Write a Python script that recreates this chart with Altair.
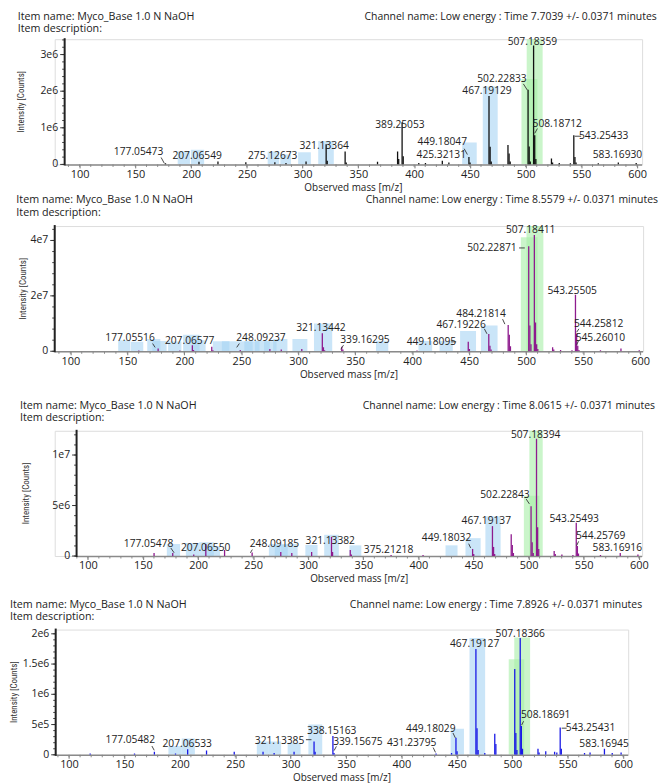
import altair as alt
import pandas as pd

ITEM_NAME = "Item name: Myco_Base 1.0 N NaOH"
ITEM_DESC = "Item description:"
X_TITLE = "Observed mass [m/z]"
Y_TITLE = "Intensity [Counts]"
X_TICKS = [100, 150, 200, 250, 300, 350, 400, 450, 500, 550, 600]

# ---------------- Panel 1 ----------------
p1_channel = "Channel name: Low energy : Time 7.7039 +/- 0.0371 minutes"
p1_peak_mz = [177.05, 207.07, 224.1, 249.1, 275.13, 285.1, 303.1, 321.13, 322.1, 338.15, 339.16, 367.2,
              385.2, 386.2, 389.25, 390.25, 404.2, 410.2, 425.32, 431.2, 449.18, 450.2, 467.19, 468.2,
              469.2, 484.2, 485.2, 486.2, 502.23, 503.23, 504.2, 507.18, 508.19, 509.2, 523.2, 524.2,
              530.2, 540.2, 543.25, 544.26, 545.26, 565.2, 583.17, 599.2]
p1_peak_int = [0.03e6, 0.07e6, 0.08e6, 0.06e6, 0.06e6, 0.04e6, 0.08e6, 0.55e6, 0.1e6, 0.35e6, 0.05e6, 0.07e6,
               0.35e6, 0.15e6, 1.15e6, 0.22e6, 0.04e6, 0.04e6, 0.1e6, 0.05e6, 0.2e6, 0.05e6, 1.87e6, 0.48e6,
               0.08e6, 0.53e6, 0.3e6, 0.08e6, 2.04e6, 0.49e6, 0.08e6, 3.245e6, 0.8e6, 0.15e6, 0.16e6, 0.05e6,
               0.04e6, 0.03e6, 0.8e6, 0.2e6, 0.05e6, 0.03e6, 0.05e6, 0.04e6]
p1_box_lo = [188, 199.8, 268.7, 280, 296, 314, 443.1, 461.6, 496.3, 501]
p1_box_hi = [199, 211.7, 279, 289.6, 307.4, 328, 456.2, 475, 510.6, 515.3]
p1_box_top = [0.35e6, 0.40e6, 0.35e6, 0.27e6, 0.33e6, 0.64e6, 0.6e6, 2.13e6, 2.33e6, 3.47e6]
p1_box_kind = ["b", "b", "b", "b", "b", "b", "b", "b", "g", "g"]
p1_lab_text = ["177.05473", "207.06549", "275.12673", "321.13364", "389.25053", "449.18047", "425.32131",
               "467.19129", "502.22833", "507.18359", "508.18712", "543.25433", "583.16930"]
p1_lab_mz = [152.9, 205.4, 273.2, 319.3, 387.3, 425.3, 424.4, 465.4, 478.8, 506.1, 528.4, 570.0, 582.4]
p1_lab_int = [0.35e6, 0.24e6, 0.24e6, 0.49e6, 1.07e6, 0.6e6, 0.27e6, 2.0e6, 2.33e6, 3.33e6, 1.11e6, 0.77e6, 0.25e6]
p1_lead_x = [173.1, 444.9, 498.0, 508.2, 544.1]
p1_lead_y = [0.19e6, 0.43e6, 2.2e6, 0.85e6, 0.77e6]
p1_lead_x2 = [176.0, 447.8, 501.6, 510.6, 549.8]
p1_lead_y2 = [0.03e6, 0.27e6, 2.03e6, 0.98e6, 0.77e6]
p1_yticks = [0, 1e6, 2e6, 3e6]
p1_ylabels = ["0", "1e6", "2e6", "3e6"]

# ---------------- Panel 2 ----------------
p2_channel = "Channel name: Low energy : Time 8.5579 +/- 0.0371 minutes"
p2_peak_mz = [160.1, 177.05, 196.1, 207.07, 208.1, 224.1, 225.1, 249.1, 275.1, 285.1, 303.1, 321.13, 322.1,
              323.1, 338.15, 339.16, 404.2, 449.18, 450.2, 467.19, 468.2, 469.2, 484.22, 485.2, 486.2,
              502.23, 503.23, 504.2, 507.18, 508.19, 509.2, 510.2, 523.2, 524.2, 530.2, 540.2, 543.26,
              544.26, 545.26, 546.3, 565.2, 583.17, 599.2]
p2_peak_int = [0.3e6, 1.0e6, 0.3e6, 2.2e6, 0.5e6, 1.6e6, 0.4e6, 0.5e6, 0.8e6, 0.6e6, 0.8e6, 6.5e6, 1.5e6,
               0.4e6, 1.6e6, 0.6e6, 0.3e6, 3.4e6, 0.8e6, 6.2e6, 2.0e6, 0.6e6, 9.5e6, 6.0e6, 1.8e6,
               37.9e6, 9.3e6, 2.5e6, 42.0e6, 10.4e6, 2.5e6, 0.8e6, 1.5e6, 0.6e6, 0.5e6, 0.4e6, 20.4e6,
               6.3e6, 2.0e6, 0.5e6, 0.4e6, 1.0e6, 0.4e6]
p2_box_lo = [142, 153, 167.5, 172, 185.8, 199, 207, 225, 233, 247, 252.7, 262, 270, 278, 294.9, 313.8,
             368.2, 405.5, 424, 442, 460.3, 495.3, 500.3]
p2_box_hi = [152.5, 164, 179, 184.5, 197.5, 213.4, 218.7, 239.6, 247, 260, 266, 275, 281, 290.5, 308, 329.8,
             379, 417.5, 435.6, 456, 474.9, 510, 515.1]
p2_box_top = [4.0e6, 3.4e6, 4.4e6, 3.7e6, 3.5e6, 6.0e6, 4.0e6, 3.6e6, 3.6e6, 3.6e6, 3.6e6, 3.8e6, 3.6e6,
              4.4e6, 4.4e6, 10e6, 3.8e6, 3.7e6, 3.7e6, 7.3e6, 9.3e6, 41.2e6, 45.5e6]
p2_box_kind = ["b"] * 21 + ["g", "g"]
p2_lab_text = ["177.05516", "207.06577", "248.09237", "321.13442", "339.16295", "449.18095", "467.19226",
               "484.21814", "502.22871", "507.18411", "543.25505", "544.25812", "545.26010"]
p2_lab_mz = [152.4, 204.7, 267.3, 319.9, 358.5, 416.8, 442.9, 460.4, 470.0, 504.0, 540.4, 563.6, 565.1]
p2_lab_int = [4.8e6, 3.75e6, 4.9e6, 8.3e6, 4.2e6, 3.4e6, 9.5e6, 13.6e6, 37.3e6, 43.8e6, 21.9e6, 9.9e6, 4.9e6]
p2_lead_x = [172.2, 246.0, 337.3, 434.2, 463.3, 479.3, 493.8, 544.3, 544.3]
p2_lead_y = [2.8e6, 1.4e6, 0.7e6, 3.4e6, 8.1e6, 11.6e6, 37.3e6, 6.9e6, 2.3e6]
p2_lead_x2 = [174.4, 248.3, 339.7, 438.6, 465.6, 481.3, 498.8, 546.3, 545.8]
p2_lead_y2 = [1.4e6, 2.8e6, 2.2e6, 3.4e6, 6.3e6, 9.8e6, 37.3e6, 8.1e6, 3.7e6]
p2_yticks = [0, 2e7, 4e7]
p2_ylabels = ["0", "2e7", "4e7"]

# ---------------- Panel 3 ----------------
p3_channel = "Channel name: Low energy : Time 8.0615 +/- 0.0371 minutes"
p3_peak_mz = [160.1, 177.05, 196.1, 207.07, 224.1, 249.1, 275.1, 285.1, 303.1, 321.13, 322.1, 338.15, 339.16,
              375.2, 404.2, 449.18, 450.2, 467.19, 468.2, 469.2, 484.22, 485.2, 486.2, 502.23, 503.23, 504.2,
              507.18, 508.19, 509.2, 523.2, 524.2, 530.2, 540.2, 543.25, 544.26, 545.26, 565.2, 583.17, 599.2]
p3_peak_int = [0.3e6, 0.3e6, 0.15e6, 1.2e6, 0.6e6, 0.35e6, 0.4e6, 0.3e6, 0.4e6, 1.9e6, 0.4e6, 0.6e6, 0.15e6,
               0.1e6, 0.1e6, 0.7e6, 0.2e6, 2.96e6, 0.9e6, 0.2e6, 2.16e6, 1.1e6, 0.3e6, 4.93e6, 1.36e6, 0.3e6,
               11.6e6, 2.84e6, 0.7e6, 0.5e6, 0.2e6, 0.15e6, 0.1e6, 3.29e6, 1.0e6, 0.25e6, 0.1e6, 0.3e6, 0.15e6]
p3_box_lo = [171.7, 189, 201, 206, 264.3, 269.7, 275.4, 297.4, 314.5, 337.4, 424.6, 442.7, 460.8, 495.7, 500.7]
p3_box_hi = [183.7, 201, 214.4, 220, 274.8, 281.4, 290.4, 308.5, 327.8, 348.2, 435.5, 456.5, 474.6, 509.8, 512.8]
p3_box_top = [1.19e6, 1.29e6, 1.36e6, 1.0e6, 1.2e6, 1.1e6, 1.2e6, 1.1e6, 2.1e6, 1.06e6, 1.06e6, 1.77e6,
              3.93e6, 5.96e6, 12.5e6]
p3_box_kind = ["b"] * 13 + ["g", "g"]
p3_lab_text = ["177.05478", "207.06550", "248.09185", "321.13382", "375.21218", "449.18032", "467.19137",
               "502.22843", "507.18394", "543.25493", "544.25769", "583.16916"]
p3_lab_mz = [155.1, 206.9, 269.4, 320.0, 372.9, 425.5, 461.6, 478.5, 506.4, 541.3, 565.4, 580.5]
p3_lab_int = [1.19e6, 0.8e6, 1.19e6, 1.5e6, 0.64e6, 1.77e6, 3.48e6, 6.0e6, 12.0e6, 3.7e6, 1.94e6, 0.8e6]
p3_lead_x = [175.3, 247.5, 445.6, 497.8, 543.6]
p3_lead_y = [0.8e6, 0.32e6, 1.22e6, 5.64e6, 1.03e6]
p3_lead_x2 = [178.3, 249.3, 447.4, 500.7, 545.4]
p3_lead_y2 = [0.32e6, 0.64e6, 0.8e6, 5.16e6, 1.45e6]
p3_yticks = [0, 5e6, 1e7]
p3_ylabels = ["0", "5e6", "1e7"]

# ---------------- Panel 4 ----------------
p4_channel = "Channel name: Low energy : Time 7.8926 +/- 0.0371 minutes"
p4_peak_mz = [119.1, 159.1, 177.05, 196.1, 207.07, 224.1, 249.1, 275.1, 285.1, 303.1, 321.13, 322.1, 338.15,
              339.16, 431.24, 445.2, 449.18, 450.2, 467.19, 468.2, 469.2, 475.2, 484.2, 485.2, 502.23,
              503.23, 504.2, 507.18, 508.19, 509.2, 523.2, 524.2, 530.2, 538.2, 540.2, 543.25, 544.26,
              565.2, 570.2, 583.17, 590.2, 598.2]
p4_peak_int = [0.02e6, 0.02e6, 0.05e6, 0.02e6, 0.09e6, 0.07e6, 0.05e6, 0.05e6, 0.03e6, 0.05e6, 0.22e6, 0.05e6,
               0.31e6, 0.03e6, 0.02e6, 0.03e6, 0.28e6, 0.06e6, 1.75e6, 0.44e6, 0.08e6, 0.03e6, 0.35e6, 0.18e6,
               1.42e6, 0.36e6, 0.08e6, 1.93e6, 0.475e6, 0.1e6, 0.1e6, 0.04e6, 0.06e6, 0.05e6, 0.04e6,
               0.45e6, 0.1e6, 0.03e6, 0.04e6, 0.1e6, 0.03e6, 0.04e6]
p4_box_lo = [189.7, 201.7, 269.5, 280.3, 297.3, 316, 444.4, 461.4, 496.8, 501.8]
p4_box_hi = [201.7, 213.6, 280.3, 291.4, 309, 328.5, 456.4, 475.5, 510.8, 516.1]
p4_box_top = [0.145e6, 0.27e6, 0.22e6, 0.22e6, 0.2e6, 0.5e6, 0.43e6, 1.93e6, 1.58e6, 1.94e6]
p4_box_kind = ["b"] * 8 + ["g", "g"]
p4_lab_text = ["177.05482", "207.06533", "321.13385", "338.15163", "339.15675", "431.23795", "449.18029",
               "467.19127", "507.18366", "508.18691", "543.25431", "583.16945"]
p4_lab_mz = [155.3, 206.7, 290.0, 337.1, 360.7, 409.2, 426.5, 466.0, 507.2, 530.2, 570.6, 582.8]
p4_lab_int = [0.24e6, 0.17e6, 0.22e6, 0.4e6, 0.21e6, 0.19e6, 0.43e6, 1.83e6, 2.0e6, 0.65e6, 0.44e6, 0.17e6]
p4_lead_x = [174.8, 313.8, 339.2, 428.6, 446.5, 508.4, 544.6]
p4_lead_y = [0.145e6, 0.25e6, 0.07e6, 0.12e6, 0.36e6, 0.49e6, 0.44e6]
p4_lead_x2 = [176.9, 318.8, 341.3, 430.7, 448.6, 510.2, 549.1]
p4_lead_y2 = [0.074e6, 0.25e6, 0.14e6, 0.04e6, 0.28e6, 0.555e6, 0.44e6]
p4_yticks = [0, 5e5, 1e6, 1.5e6, 2e6]
p4_ylabels = ["0", "5e5", "1e6", "1.5e6", "2e6"]

# ---------------- styling / layout ----------------
FONT = "Open Sans"
NARROW = "Liberation Sans Narrow, Roboto Condensed, Liberation Sans"
BOX_COLORS = ["#a6d3f3", "#a6eea6"]
ORIGIN_LEFT = 46   # distance from each panel's left edge to its plot origin


def panel(channel, pk_mz, pk_int, stick_color, bx_lo, bx_hi, bx_top, bx_kind,
          lb_text, lb_mz, lb_int, ld_x, ld_y, ld_x2, ld_y2, yticks, ylabels, minor_step,
          axis_lo, x_hi, px_per_unit, a, ydom, height, top_off, name_y, name_x,
          chan_x, ytitle_x, xtitle_x):
    # a = pixel position of the y axis inside the panel
    x_lo = axis_lo - a / px_per_unit
    width = round((x_hi - x_lo) * px_per_unit)
    xs = alt.Scale(domain=[x_lo, x_hi], nice=False, zero=False)
    ys = alt.Scale(domain=ydom, nice=False, zero=False)
    xax = alt.Axis(values=X_TICKS, title=None, tickSize=3.5, tickColor="#777", domain=False,
                   labelFont=FONT, labelFontSize=11, labelColor="#222", labelPadding=0.5,
                   grid=False, labelFlush=False)

    def X(f):
        return alt.X(f, type="quantitative", scale=xs, axis=xax)

    def Y(f):
        return alt.Y(f, type="quantitative", scale=ys, axis=None)

    one = pd.DataFrame({"k": [0]})

    boxes = pd.DataFrame({"lo": bx_lo, "hi": bx_hi, "top": bx_top, "kind": bx_kind,
                          "base": [0] * len(bx_lo)})
    box_layer = alt.Chart(boxes).mark_rect(clip=True, opacity=0.6).encode(
        x=X("lo"), x2="hi", y=Y("top"), y2="base",
        color=alt.Color("kind:N", scale=alt.Scale(domain=["b", "g"], range=BOX_COLORS), legend=None))

    x_line = alt.Chart(pd.DataFrame({"s": [axis_lo], "e": [x_hi]})).mark_rule(
        color="#8a8a8a", strokeWidth=1.5).encode(x=X("s"), x2="e", y=alt.value(height + 0.5))

    minor_x = pd.DataFrame({"m": [v for v in range(90, 610, 10) if axis_lo <= v <= x_hi]})
    minor_x_layer = alt.Chart(minor_x).mark_rule(color="#888", strokeWidth=1).encode(
        x=X("m"), y=alt.value(height), y2=alt.value(height + 2.5))

    y_line = alt.Chart(one).mark_rule(color="#222", strokeWidth=2).encode(
        x=alt.value(a), y=alt.value(-1), y2=alt.value(height + 1))

    ny = int(round(ydom[1] / minor_step))
    minor_y = pd.DataFrame({"m": [i * minor_step for i in range(ny + 1) if i * minor_step <= ydom[1]]})
    minor_y_layer = alt.Chart(minor_y).mark_rule(color="#444", strokeWidth=1).encode(
        y=Y("m"), x=alt.value(a), x2=alt.value(a - 2.5))

    yt = pd.DataFrame({"v": yticks, "lab": ylabels})
    ytick_layer = alt.Chart(yt).mark_rule(color="#333", strokeWidth=1).encode(
        y=Y("v"), x=alt.value(a), x2=alt.value(a - 4.5))
    ylab_layer = alt.Chart(yt).mark_text(font=FONT, fontSize=10.5, color="#222", align="right",
                                         baseline="middle").encode(
        y=Y("v"), x=alt.value(a - 6.5), text="lab:N")

    peaks = pd.DataFrame({"mz": pk_mz, "inten": pk_int, "base": [0] * len(pk_mz)})
    peak_layer = alt.Chart(peaks).mark_rule(color=stick_color, strokeWidth=1.3, clip=True).encode(
        x=X("mz"), y=Y("inten"), y2="base")

    leads = pd.DataFrame({"x1": ld_x, "y1": ld_y, "x2": ld_x2, "y2": ld_y2})
    lead_layer = alt.Chart(leads).mark_rule(color="#333", strokeWidth=0.9).encode(
        x=X("x1"), y=Y("y1"), x2="x2", y2="y2")

    labels = pd.DataFrame({"t": lb_text, "mz": lb_mz, "inten": lb_int})
    label_layer = alt.Chart(labels).mark_text(font=FONT, fontSize=10.3, color="#222",
                                              align="center", baseline="middle").encode(
        x=X("mz"), y=Y("inten"), text="t:N")

    ytitle = alt.Chart(one).mark_text(font=NARROW, fontSize=9, color="#333", angle=270,
                                      align="center", baseline="middle").encode(
        x=alt.value(ytitle_x), y=alt.value(height / 2), text=alt.value(Y_TITLE))
    xtitle = alt.Chart(one).mark_text(font=FONT, fontSize=10, color="#222", align="center",
                                      baseline="middle").encode(
        x=alt.value(xtitle_x), y=alt.value(height + 23.5), text=alt.value(X_TITLE))

    name_layer = alt.Chart(one).mark_text(font=FONT, fontSize=10.8, color="#222", align="left",
                                          baseline="middle").encode(
        x=alt.value(name_x), y=alt.value(name_y), text=alt.value(ITEM_NAME))
    desc_layer = alt.Chart(one).mark_text(font=FONT, fontSize=10.8, color="#222", align="left",
                                          baseline="middle").encode(
        x=alt.value(name_x), y=alt.value(name_y + 12.5), text=alt.value(ITEM_DESC))
    chan_layer = alt.Chart(one).mark_text(font=FONT, fontSize=10.5, color="#222", align="right",
                                          baseline="middle").encode(
        x=alt.value(chan_x), y=alt.value(name_y), text=alt.value(channel))
    spacer = alt.Chart(one).mark_text(font=FONT, fontSize=6, opacity=0, align="left",
                                      baseline="top").encode(
        x=alt.value(-ORIGIN_LEFT), y=alt.value(-top_off), text=alt.value("."))

    return alt.layer(box_layer, x_line, minor_x_layer, minor_y_layer, ytick_layer, y_line, peak_layer,
                     lead_layer, label_layer, ylab_layer, ytitle, xtitle, name_layer, desc_layer,
                     chan_layer, spacer).properties(width=width, height=height)


H = 126
c1 = panel(p1_channel, p1_peak_mz, p1_peak_int, "#111111", p1_box_lo, p1_box_hi, p1_box_top, p1_box_kind,
           p1_lab_text, p1_lab_mz, p1_lab_int, p1_lead_x, p1_lead_y, p1_lead_x2, p1_lead_y2,
           p1_yticks, p1_ylabels, 2e5,
           86.6, 604.5, 1.122, 10, [0, 3.42e6], H, 28, -22.5, -37.3, 605.7, -34, 300.5)
c2 = panel(p2_channel, p2_peak_mz, p2_peak_int, "#8e1b8e", p2_box_lo, p2_box_hi, p2_box_top, p2_box_kind,
           p2_lab_text, p2_lab_mz, p2_lab_int, p2_lead_x, p2_lead_y, p2_lead_x2, p2_lead_y2,
           p2_yticks, p2_ylabels, 4e6,
           86.3, 602.6, 1.146, 0, [0, 4.52e7], H, 31, -26, -38.6, 607, -32.3, 296)
c3 = panel(p3_channel, p3_peak_mz, p3_peak_int, "#8e1b8e", p3_box_lo, p3_box_hi, p3_box_top, p3_box_kind,
           p3_lab_text, p3_lab_mz, p3_lab_int, p3_lead_x, p3_lead_y, p3_lead_x2, p3_lead_y2,
           p3_yticks, p3_ylabels, 1e6,
           89.8, 603.0, 1.108, 22, [0, 1.24e7], H, 50, -25, -35, 604, -29, 306.3)
c4 = panel(p4_channel, p4_peak_mz, p4_peak_int, "#1a1ae6", p4_box_lo, p4_box_hi, p4_box_top, p4_box_kind,
           p4_lab_text, p4_lab_mz, p4_lab_int, p4_lead_x, p4_lead_y, p4_lead_x2, p4_lead_y2,
           p4_yticks, p4_ylabels, 1e5,
           88.0, 604.6, 1.115, 1, [0, 2.07e6], H, 44, -25, -45, 591, -40.7, 289)

chart = alt.vconcat(c1, c2, c3, c4, spacing=0, center=False).properties(
    padding=0
).configure_view(stroke=None).configure(background="white")

chart.save("out.html", embed_options={"renderer": "svg", "actions": False})
